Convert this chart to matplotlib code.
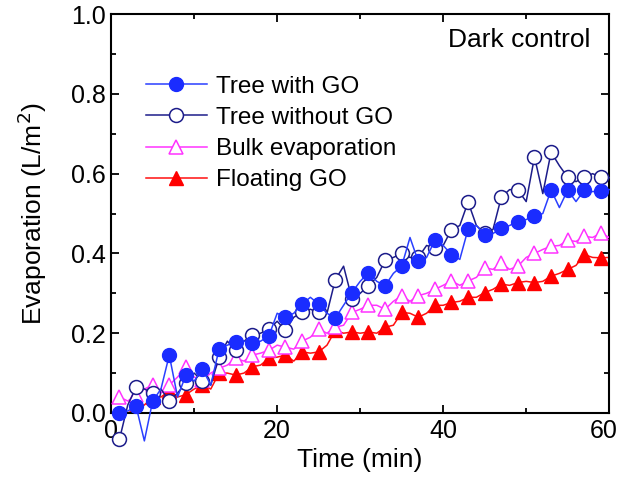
import numpy as np
import matplotlib
matplotlib.use("Agg")
import matplotlib.pyplot as plt
from matplotlib.transforms import ScaledTranslation

plt.rcParams['font.family'] = ['Liberation Sans', 'DejaVu Sans']

time_min = list(range(1, 61))

tree_with_go = [0.00, 0.005, 0.017, -0.07, 0.03, 0.06, 0.145, 0.04, 0.095, 0.08,
                0.11, 0.07, 0.16, 0.17, 0.178, 0.18, 0.176, 0.18, 0.193, 0.25,
                0.24, 0.25, 0.273, 0.29, 0.273, 0.25, 0.238, 0.27, 0.302, 0.33,
                0.352, 0.33, 0.319, 0.35, 0.368, 0.44, 0.38, 0.39, 0.433, 0.42,
                0.397, 0.385, 0.461, 0.47, 0.447, 0.45, 0.463, 0.47, 0.48, 0.485,
                0.494, 0.50, 0.559, 0.515, 0.559, 0.53, 0.559, 0.555, 0.557, 0.56]

tree_without_go = [-0.066, 0.02, 0.064, 0.06, 0.05, 0.06, 0.03, 0.05, 0.075, 0.10,
                   0.08, 0.07, 0.14, 0.18, 0.157, 0.18, 0.195, 0.20, 0.21, 0.23,
                   0.207, 0.24, 0.252, 0.26, 0.252, 0.25, 0.334, 0.368, 0.287, 0.30,
                   0.319, 0.34, 0.383, 0.39, 0.40, 0.39, 0.39, 0.42, 0.413, 0.42,
                   0.46, 0.47, 0.529, 0.47, 0.45, 0.46, 0.541, 0.56, 0.559, 0.53,
                   0.642, 0.55, 0.654, 0.62, 0.591, 0.58, 0.591, 0.60, 0.591, 0.59]

bulk_evaporation = [0.04, 0.03, 0.045, 0.06, 0.07, 0.05, 0.07, 0.09, 0.115, 0.09,
                    0.083, 0.10, 0.112, 0.12, 0.137, 0.13, 0.145, 0.15, 0.157, 0.17,
                    0.165, 0.16, 0.18, 0.19, 0.21, 0.20, 0.215, 0.22, 0.252, 0.26,
                    0.27, 0.27, 0.26, 0.28, 0.294, 0.28, 0.294, 0.30, 0.31, 0.32,
                    0.331, 0.32, 0.331, 0.34, 0.364, 0.36, 0.376, 0.36, 0.368, 0.39,
                    0.40, 0.41, 0.418, 0.42, 0.433, 0.43, 0.443, 0.44, 0.451, 0.44]

floating_go = [0.00, 0.00, 0.01, 0.02, 0.04, 0.04, 0.055, 0.04, 0.046, 0.06,
               0.07, 0.06, 0.10, 0.10, 0.095, 0.10, 0.116, 0.12, 0.137, 0.14,
               0.145, 0.13, 0.153, 0.15, 0.153, 0.17, 0.207, 0.20, 0.203, 0.20,
               0.203, 0.20, 0.215, 0.22, 0.252, 0.25, 0.24, 0.25, 0.27, 0.27,
               0.277, 0.28, 0.29, 0.29, 0.302, 0.31, 0.323, 0.32, 0.327, 0.33,
               0.327, 0.33, 0.343, 0.35, 0.36, 0.37, 0.397, 0.39, 0.389, 0.39]

labels = ["Tree with GO", "Tree without GO", "Bulk evaporation", "Floating GO"]

fig = plt.figure(figsize=(6.21, 4.87), dpi=100)
ax = fig.add_axes([0.179, 0.152, 0.802, 0.819])

ax.plot(time_min, tree_with_go, color='#2a3fff', lw=1.1, marker='o', ms=10,
        mfc='#1a2cff', mec='#1a2cff', markevery=2, label=labels[0], clip_on=False, zorder=5)
ax.plot(time_min, tree_without_go, color='#1c1c8a', lw=1.1, marker='o', ms=10,
        mfc='white', mec='#1c1c8a', mew=1.1, markevery=2, label=labels[1], clip_on=False, zorder=4)
ax.plot(time_min, bulk_evaporation, color='#ff33ff', lw=1.1, marker='^', ms=10,
        mfc='white', mec='#ff33ff', mew=1.1, markevery=2, label=labels[2], zorder=3)
ax.plot(time_min, floating_go, color='#ff1010', lw=1.1, marker='^', ms=10,
        mfc='#ff0000', mec='#ff0000', markevery=2, label=labels[3], zorder=2)

ax.set_xlim(0, 60)
ax.set_ylim(0, 1.0)
ax.set_xticks([0, 20, 40, 60])
ax.set_xticks([10, 30, 50], minor=True)
ax.set_yticks([0.0, 0.2, 0.4, 0.6, 0.8, 1.0])
ax.set_yticks([0.1, 0.3, 0.5, 0.7, 0.9], minor=True)
ax.set_yticklabels(["0.0", "0.2", "0.4", "0.6", "0.8", "1.0"])
ax.tick_params(which='both', direction='in', top=True, right=True, labelsize=18, width=1.3)
ax.tick_params(which='major', length=6, pad=4)
ax.tick_params(which='minor', length=3.5)
for s in ax.spines.values():
    s.set_linewidth(1.5)

# nudge the last x tick label slightly left so it stays inside the canvas
last = ax.get_xticklabels()[-1]
last.set_transform(last.get_transform() + ScaledTranslation(-6 / 100, 0, fig.dpi_scale_trans))

ax.set_xlabel("Time (min)", fontsize=19, labelpad=4)
ax.set_ylabel("Evaporation (L/m$^2$)", fontsize=19, labelpad=16)

ax.text(0.962, 0.965, "Dark control", transform=ax.transAxes, ha='right', va='top', fontsize=19)

ax.legend(loc='upper left', bbox_to_anchor=(0.05, 0.87), frameon=False, fontsize=17.5,
          handlelength=2.5, handletextpad=0.4, labelspacing=0.38, borderaxespad=0)

fig.savefig("out.png", dpi=100)
